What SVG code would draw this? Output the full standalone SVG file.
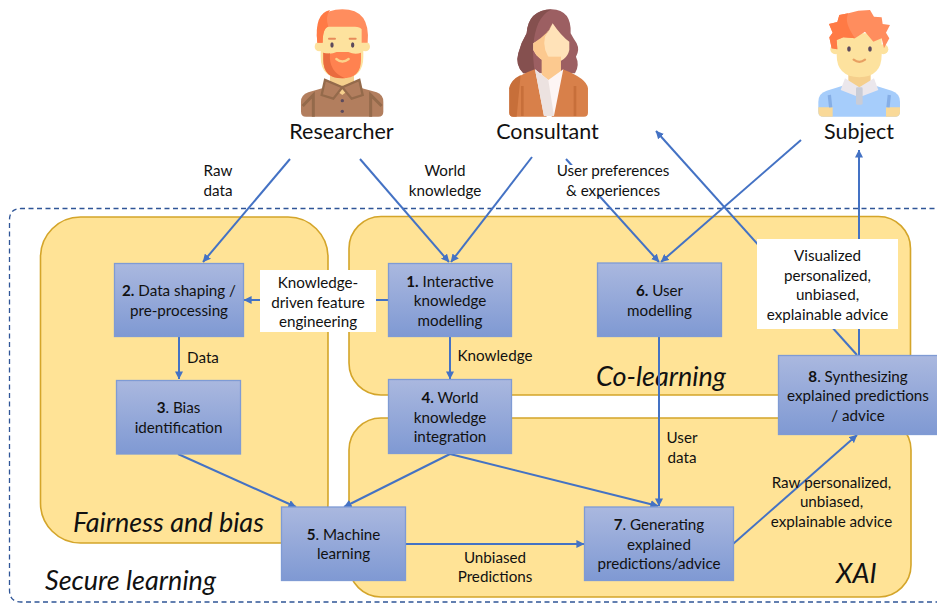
<svg xmlns="http://www.w3.org/2000/svg" width="937" height="604" viewBox="0 0 937 604">
<style>
text{font-family:Lato,"Open Sans","Liberation Sans",sans-serif;font-size:15.2px;fill:#111;text-anchor:middle}
.name{font-size:21.5px}
.it{font-size:27px;font-style:italic;text-anchor:start}
.group{fill:#ffe396;stroke:#d4a52a;stroke-width:1.6}
.node{fill:url(#g);stroke:#7f9bd4;stroke-width:1.3}
.c{fill:none;stroke:#4472c4;stroke-width:2;marker-end:url(#a)}
</style>
<defs>
<linearGradient id="g" x1="0" y1="0" x2="0" y2="1"><stop offset="0" stop-color="#aab8df"/><stop offset="1" stop-color="#7f99d3"/></linearGradient>
<marker id="a" viewBox="0 0 10 10" refX="9.500" refY="5" markerWidth="8" markerHeight="8" markerUnits="userSpaceOnUse" orient="auto"><path d="M0 0L10 5L0 10Z" fill="#4472c4"/></marker>
</defs>
<rect width="937" height="604" fill="#fff"/>
<path d="M960 208.500H21Q9.500 208.500 9.500 220V590Q9.500 602 21 602H960" fill="none" stroke="#2f5597" stroke-width="1.300" stroke-dasharray="5 3.500"/>
<g id="groups">
<rect class="group" x="40.500" y="217" width="287.500" height="326" rx="40"/>
<rect class="group" x="349" y="216.500" width="561.500" height="178.500" rx="32"/>
<rect class="group" x="349" y="418" width="562" height="179" rx="32"/>
</g>
<text class="it" x="73" y="532">Fairness and bias</text>
<text class="it" x="596" y="386">Co-learning</text>
<text class="it" x="836" y="583">XAI</text>
<text class="it" x="45" y="590">Secure learning</text>
<g id="connectors">
<path class="c" d="M290 159L203 262"/>
<path class="c" d="M360 159L449 262"/>
<path class="c" d="M532 157L451 262"/>
<path class="c" d="M566 159L659 262"/>
<path class="c" d="M801 140L661 262"/>
<path class="c" d="M857 355L656 131"/>
<path class="c" d="M859 355V150"/>
<path class="c" d="M388 300H244"/>
<path class="c" d="M179 337V379"/>
<path class="c" d="M450 337V379"/>
<path class="c" d="M450 454L344 507"/>
<path class="c" d="M450 454L658 506"/>
<path class="c" d="M178 454L296 507"/>
<path class="c" d="M659 337V506"/>
<path class="c" d="M406 544H584"/>
<path class="c" d="M733 544L857 435"/>
</g>
<g id="label-kdfe"><rect x="260" y="270" width="116" height="62" fill="#fff"/><text x="318" y="288">Knowledge-</text><text x="318" y="307.500">driven feature</text><text x="318" y="327">engineering</text></g>
<g id="label-vis"><rect x="757" y="239" width="141" height="90" fill="#fff"/><text x="827.500" y="261">Visualized</text><text x="827.500" y="281">personalized,</text><text x="827.500" y="300">unbiased,</text><text x="827.500" y="320">explainable advice</text></g>
<g id="n2"><rect class="node" x="114.500" y="263.500" width="129" height="73"/><text x="179" y="296"><tspan font-weight="700">2.</tspan> Data shaping /</text><text x="179" y="316">pre-processing</text></g>
<g id="n3"><rect class="node" x="116.500" y="380.500" width="124" height="73.500"/><text x="178.500" y="413"><tspan font-weight="700">3</tspan>. Bias</text><text x="178.500" y="433">identification</text></g>
<g id="n1"><rect class="node" x="388.500" y="263.500" width="123" height="73"/><text x="450" y="287"><tspan font-weight="700">1.</tspan> Interactive</text><text x="450" y="306">knowledge</text><text x="450" y="326">modelling</text></g>
<g id="n4"><rect class="node" x="388.500" y="379.500" width="123" height="74"/><text x="450" y="403"><tspan font-weight="700">4.</tspan> World</text><text x="450" y="423">knowledge</text><text x="450" y="442">integration</text></g>
<g id="n6"><rect class="node" x="597.500" y="263" width="124" height="73.500"/><text x="659.500" y="296"><tspan font-weight="700">6.</tspan> User</text><text x="659.500" y="316">modelling</text></g>
<g id="n8"><rect class="node" x="778.500" y="355.500" width="160" height="79"/><text x="858" y="382"><tspan font-weight="700">8</tspan>. Synthesizing</text><text x="858" y="401">explained predictions</text><text x="858" y="421">/ advice</text></g>
<g id="n5"><rect class="node" x="281.500" y="507" width="124" height="73.500"/><text x="343.500" y="540"><tspan font-weight="700">5</tspan>. Machine</text><text x="343.500" y="559">learning</text></g>
<g id="n7"><rect class="node" x="584.500" y="507" width="149" height="73.500"/><text x="659" y="530"><tspan font-weight="700">7</tspan>. Generating</text><text x="659" y="550">explained</text><text x="659" y="569">predictions/advice</text></g>
<text x="218" y="176">Raw</text><text x="218" y="196">data</text>
<text x="445" y="176">World</text><text x="445" y="196">knowledge</text>
<rect x="556" y="165" width="116" height="30" fill="#fff"/>
<text x="613" y="176">User preferences</text><text x="613" y="196">&amp; experiences</text>
<text x="203" y="363">Data</text>
<text x="495" y="361">Knowledge</text>
<text x="682" y="443">User</text><text x="682" y="463">data</text>
<text x="495" y="563">Unbiased</text><text x="495" y="582">Predictions</text>
<text x="831.500" y="488">Raw personalized,</text><text x="831.500" y="507">unbiased,</text><text x="831.500" y="527">explainable advice</text>
<g id="researcher">
<g transform="translate(280 0) scale(.3333)">
<path d="M63 305Q63 285 85 277L150 258H222L290 277Q310 285 310 305V335Q310 350 295 350H78Q63 350 63 335Z" fill="#b27e5e"/>
<path d="M150 205H222V258L187 285L150 258Z" fill="#f5cf8c"/>
<path d="M135 240L125 285L160 296L187 262L215 296L248 285L238 240L187 262Z" fill="#b27e5e" stroke="#946a4b" stroke-width="7"/>
<path d="M68 318L100 285V350M305 318L272 285V350" fill="none" stroke="#946a4b" stroke-width="9"/>
<circle cx="187" cy="302" r="5" fill="#5c4a5c"/><circle cx="187" cy="334" r="5" fill="#5c4a5c"/>
<circle cx="118" cy="140" r="14" fill="#fde29e"/><circle cx="256" cy="140" r="14" fill="#fde29e"/>
<path d="M122 78H250V170Q250 235 187 235Q122 235 122 170Z" fill="#fde29e"/>
<path d="M112 128Q100 28 187 28Q272 28 263 128H245V88Q240 80 225 80H145Q128 82 128 128Z" fill="#ff8d5e"/>
<path d="M112 128Q102 40 150 30Q135 50 145 80Q128 84 128 128Z" fill="#ff7a45"/>
<path d="M130 158Q150 165 170 156H205Q225 165 243 158V180Q243 235 187 235Q130 235 130 180Z" fill="#ff8250"/>
<path d="M130 158Q140 162 150 160Q145 215 195 235H187Q130 235 130 180Z" fill="#e96c3f"/>
<path d="M169 177Q187 192 206 177" fill="none" stroke="#fcd28a" stroke-width="7" stroke-linecap="round"/>
<ellipse cx="156" cy="135" rx="5" ry="8" fill="#5c4a5c"/><ellipse cx="218" cy="135" rx="5" ry="8" fill="#5c4a5c"/>
<path d="M147 116H165M209 116H227" stroke="#e88b5a" stroke-width="6" stroke-linecap="round"/>
</g>
<text class="name" x="341.500" y="139">Researcher</text>
</g>
<g id="consultant">
<g transform="translate(280 0) scale(.3333)">
<path d="M815 28Q875 30 872 100Q880 115 890 130Q900 150 888 170Q900 195 885 220H730Q705 195 715 160Q722 130 740 100Q745 30 815 28Z" fill="#9c5f62"/>
<path d="M815 28Q745 30 740 100Q722 130 715 160Q705 195 730 220H765Q750 130 775 70Q790 40 815 28Z" fill="#85504f"/>
<path d="M818 70Q845 110 868 125V150Q860 185 818 188Q775 185 760 150V130Q800 115 818 70Z" fill="#ffe2b8"/>
<path d="M818 70Q808 100 760 130V150Q775 185 818 188Q785 150 795 110Z" fill="#fcc98f"/>
<rect x="785" y="170" width="58" height="70" fill="#fcc98f"/>
<path d="M688 265Q690 235 765 208L800 350H700Q688 350 688 338ZM924 265Q920 235 848 208L815 350H912Q924 350 924 338Z" fill="#d8804a"/>
<path d="M765 208L805 240L850 208L822 348H792Z" fill="#fdf5f4"/>
<path d="M765 208L805 240L822 348H792Z" fill="#ece2e0"/>
<path d="M688 265Q692 240 722 225L710 350H700Q688 350 688 338Z" fill="#c76f3a"/>
<path d="M727 258V348M885 258V348" stroke="#c76f3a" stroke-width="8"/>
</g>
<text class="name" x="547.500" y="139">Consultant</text>
</g>
<g id="subject">
<g transform="translate(780 0) scale(.3333)">
<path d="M115 305Q115 280 140 272L205 252H270L335 272Q360 280 360 305V335Q360 350 345 350H130Q115 350 115 335Z" fill="#a6cdfb"/>
<path d="M115 322H158V350H130Q115 350 115 335ZM360 322H318V350H345Q360 350 360 335Z" fill="#f9d998"/>
<path d="M152 322L148 285M324 322L328 285" fill="none" stroke="#85aee6" stroke-width="10"/>
<path d="M205 205H272V255L238 268L205 255Z" fill="#f5cf8c"/>
<path d="M195 235L238 262L282 235L295 270L248 288H228L182 270Z" fill="#ebe7ec"/>
<rect x="228" y="262" width="20" height="52" rx="4" fill="#c9ccd6"/>
<circle cx="166" cy="148" r="15" fill="#fde29e"/><circle cx="310" cy="148" r="15" fill="#fde29e"/>
<path d="M170 100H305V165Q305 230 238 232Q170 230 170 165Z" fill="#fde29e"/>
<path d="M155 145L148 112L158 98L147 72L172 66L178 45L205 40L235 32L270 30L282 50L305 52L308 72L330 75L318 98L328 115L312 145L305 115L280 125L255 95L225 115L190 112L170 120L172 148Z" fill="#ff8d5e"/>
<path d="M155 145L148 112L158 98L147 72L172 66L178 45L205 40Q190 65 225 115L190 112L170 120L172 148Z" fill="#ff7a45"/>
<ellipse cx="207" cy="147" rx="5.500" ry="8" fill="#5c4a5c"/><ellipse cx="270" cy="147" rx="5.500" ry="8" fill="#5c4a5c"/>
<path d="M221 179Q238 192 255 179" fill="none" stroke="#e8a062" stroke-width="7" stroke-linecap="round"/>
</g>
<text class="name" x="859" y="139">Subject</text>
</g>
</svg>
